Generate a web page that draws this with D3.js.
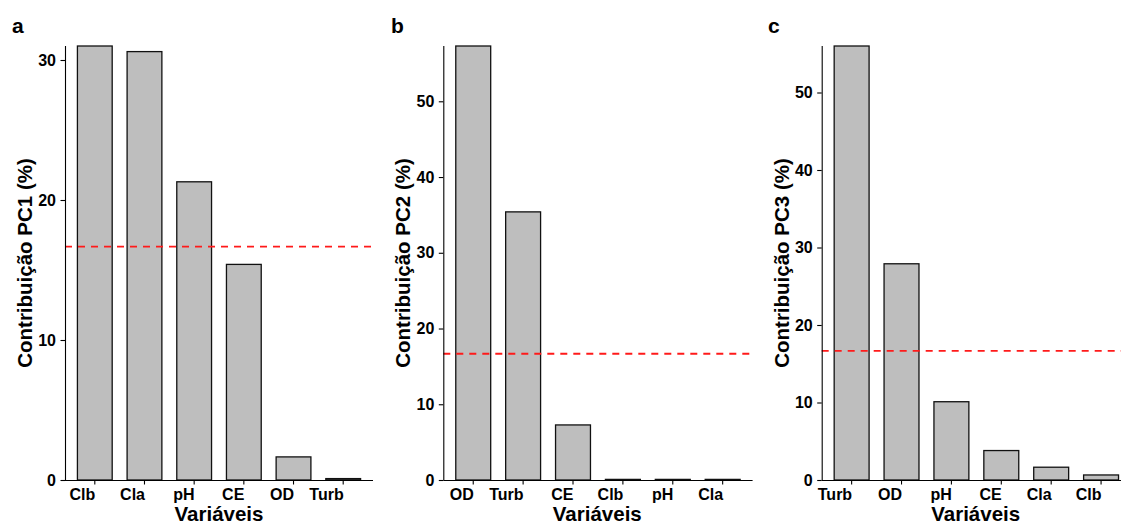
<!DOCTYPE html>
<html>
<head>
<meta charset="utf-8">
<script src="https://cdn.jsdelivr.net/npm/d3@7"></script>
<style>
  html, body { margin: 0; padding: 0; background: #fff; }
  svg { display: block; font-family: "Liberation Sans", Arial, sans-serif; }
</style>
</head>
<body>
<svg id="chart" width="1121" height="524"></svg>
<script>
// Variable contributions (%) to the first three principal components
const varsPC1 = ["Clb", "Cla", "pH", "CE", "OD", "Turb"];
const contribPC1 = [31.0, 30.6, 21.3, 15.4, 1.65, 0.1];

const varsPC2 = ["OD", "Turb", "CE", "Clb", "pH", "Cla"];
const contribPC2 = [57.3, 35.4, 7.27, 0.08, 0.08, 0.08];

const varsPC3 = ["Turb", "OD", "pH", "CE", "Cla", "Clb"];
const contribPC3 = [56.0, 27.9, 10.1, 3.8, 1.65, 0.65];

const ticksPC1 = [0, 10, 20, 30];
const ticksPC2 = [0, 10, 20, 30, 40, 50];
const ticksPC3 = [0, 10, 20, 30, 40, 50];

// Expected mean contribution with 6 variables (100 / 6)
const refLine = 16.67;

const panelLetters = ["a", "b", "c"];
const yTitles = ["Contribuição PC1 (%)", "Contribuição PC2 (%)", "Contribuição PC3 (%)"];
const xTitle = "Variáveis";

const panels = [
  { vars: varsPC1, vals: contribPC1, ticks: ticksPC1, x0: 65,    x1: 373,  lx: 12 },
  { vars: varsPC2, vals: contribPC2, ticks: ticksPC2, x0: 443.3, x1: 752.6, lx: 391 },
  { vars: varsPC3, vals: contribPC3, ticks: ticksPC3, x0: 821.7, x1: 1131, lx: 768 }
];

const plotTop = 46, plotBottom = 480;
const svg = d3.select("#chart");

panels.forEach((p, i) => {
  const g = svg.append("g");

  const x = d3.scaleBand()
    .domain(p.vars)
    .range([p.x0, p.x1])
    .paddingInner(0.3)
    .paddingOuter(0.25);

  const y = d3.scaleLinear()
    .domain([0, d3.max(p.vals)])
    .range([plotBottom, plotTop]);

  // bars
  g.selectAll("rect.bar")
    .data(p.vars.map((v, k) => ({ v, val: p.vals[k] })))
    .join("rect")
    .attr("class", "bar")
    .attr("x", d => x(d.v))
    .attr("width", x.bandwidth())
    .attr("y", d => y(d.val))
    .attr("height", d => Math.max(0, y(0) - y(d.val)))
    .attr("fill", "#bebebe")
    .attr("stroke", "#111")
    .attr("stroke-width", 1.3);

  // reference line
  g.append("line")
    .attr("x1", p.x0).attr("x2", p.x1)
    .attr("y1", y(refLine)).attr("y2", y(refLine))
    .attr("stroke", "#ff1a1a")
    .attr("stroke-width", 1.8)
    .attr("stroke-dasharray", "7,6");

  // y axis
  const yAxis = g.append("g")
    .attr("transform", `translate(${p.x0},0)`)
    .call(d3.axisLeft(y).tickValues(p.ticks).tickSize(4.5).tickPadding(4.5).tickSizeOuter(0));
  yAxis.select(".domain").attr("stroke", "#000").attr("stroke-width", 1.1)
    .attr("d", `M0.5,${plotTop}V${plotBottom}`);

  // x axis (labels right-aligned to their tick)
  const xAxis = g.append("g")
    .attr("transform", `translate(0,${plotBottom})`)
    .call(d3.axisBottom(x).tickSize(4.5).tickPadding(4.5).tickSizeOuter(0));
  xAxis.select(".domain").attr("stroke", "#000").attr("stroke-width", 1.1)
    .attr("d", `M${p.x0},0.5H${p.x1}`);
  xAxis.selectAll(".tick text")
    .attr("text-anchor", "end")
    .attr("x", 0.5);

  [yAxis, xAxis].forEach(ax => {
    ax.selectAll(".tick line").attr("stroke", "#000").attr("stroke-width", 1.1);
    ax.selectAll(".tick text")
      .attr("fill", "#000")
      .style("font-size", "16px")
      .style("font-weight", "bold")
      .style("font-family", "'Liberation Sans', Arial, sans-serif");
  });

  // axis titles
  g.append("text")
    .attr("transform", `translate(${p.x0 - 33},${(plotTop + plotBottom) / 2}) rotate(-90)`)
    .attr("text-anchor", "middle")
    .style("font-size", "20.5px")
    .style("font-weight", "bold")
    .text(yTitles[i]);

  g.append("text")
    .attr("x", (p.x0 + Math.min(p.x1, p.x0 + 308)) / 2)
    .attr("y", 521)
    .attr("text-anchor", "middle")
    .style("font-size", "20.5px")
    .style("font-weight", "bold")
    .text(xTitle);

  // panel letter
  g.append("text")
    .attr("x", p.lx)
    .attr("y", 32.5)
    .style("font-size", "21px")
    .style("font-weight", "bold")
    .text(panelLetters[i]);
});
</script>
</body>
</html>
